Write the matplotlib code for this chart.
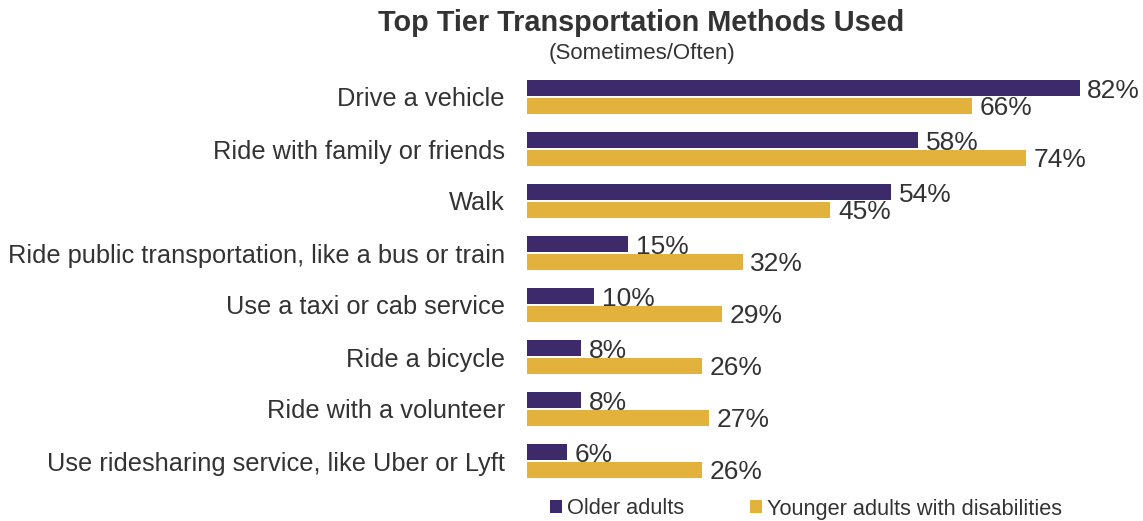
import matplotlib
matplotlib.use("Agg")
import matplotlib.pyplot as plt
import numpy as np

categories = [
    "Drive a vehicle",
    "Ride with family or friends",
    "Walk",
    "Ride public transportation, like a bus or train",
    "Use a taxi or cab service",
    "Ride a bicycle",
    "Ride with a volunteer",
    "Use ridesharing service, like Uber or Lyft",
]
older = [82, 58, 54, 15, 10, 8, 8, 6]
younger = [66, 74, 45, 32, 29, 26, 27, 26]
series_names = ["Older adults", "Younger adults with disabilities"]
colors = ["#3C2A6A", "#E3B23C"]
text_color = "#333333"

plt.rcParams['font.family'] = ['Liberation Sans', 'DejaVu Sans']

W, H = 1143, 521
fig = plt.figure(figsize=(W / 100, H / 100), dpi=100)
ax_left = 527 / W
ax_right = 1.0
ax_top = 71
ax_bot = 487
ax = fig.add_axes([ax_left, (H - ax_bot) / H, ax_right - ax_left, (ax_bot - ax_top) / H])

n = len(categories)
y = np.arange(n)
bh = 0.31
gap = 0.02
b1 = ax.barh(y - bh / 2 - gap / 2, older, height=bh, color=colors[0], label=series_names[0])
b2 = ax.barh(y + bh / 2 + gap / 2, younger, height=bh, color=colors[1], label=series_names[1])

ax.set_ylim(n - 0.5, -0.5)
ax.set_xlim(0, (W - 527) / 6.74)

for bars, vals in ((b1, older), (b2, younger)):
    for rect, v in zip(bars, vals):
        ax.annotate(f"{v}%", (rect.get_width(), rect.get_y() + rect.get_height() / 2),
                    xytext=(5.5, -1.5), textcoords="offset points", va="center", ha="left",
                    fontsize=19, color=text_color)

ax.set_yticks(y)
ax.set_yticklabels(categories, fontsize=18.3, color=text_color)
ax.tick_params(axis='y', length=0, pad=16)
ax.set_xticks([])
for s in ax.spines.values():
    s.set_visible(False)

fig.text(641 / W, 1 - 23 / H, "Top Tier Transportation Methods Used", ha="center", va="center",
         fontsize=20.8, fontweight="bold", color=text_color)
fig.text(642 / W, 1 - 53 / H, "(Sometimes/Often)", ha="center", va="center",
         fontsize=16, color=text_color)

leg = fig.legend(handles=[b1, b2], labels=series_names, loc="center",
                 bbox_to_anchor=(806 / W, 1 - 509 / H), ncol=2, frameon=False,
                 fontsize=15.7, handlelength=0.55, handleheight=0.55, handletextpad=0.25,
                 columnspacing=3.0, labelcolor=text_color)

fig.savefig("out.png", dpi=100)
